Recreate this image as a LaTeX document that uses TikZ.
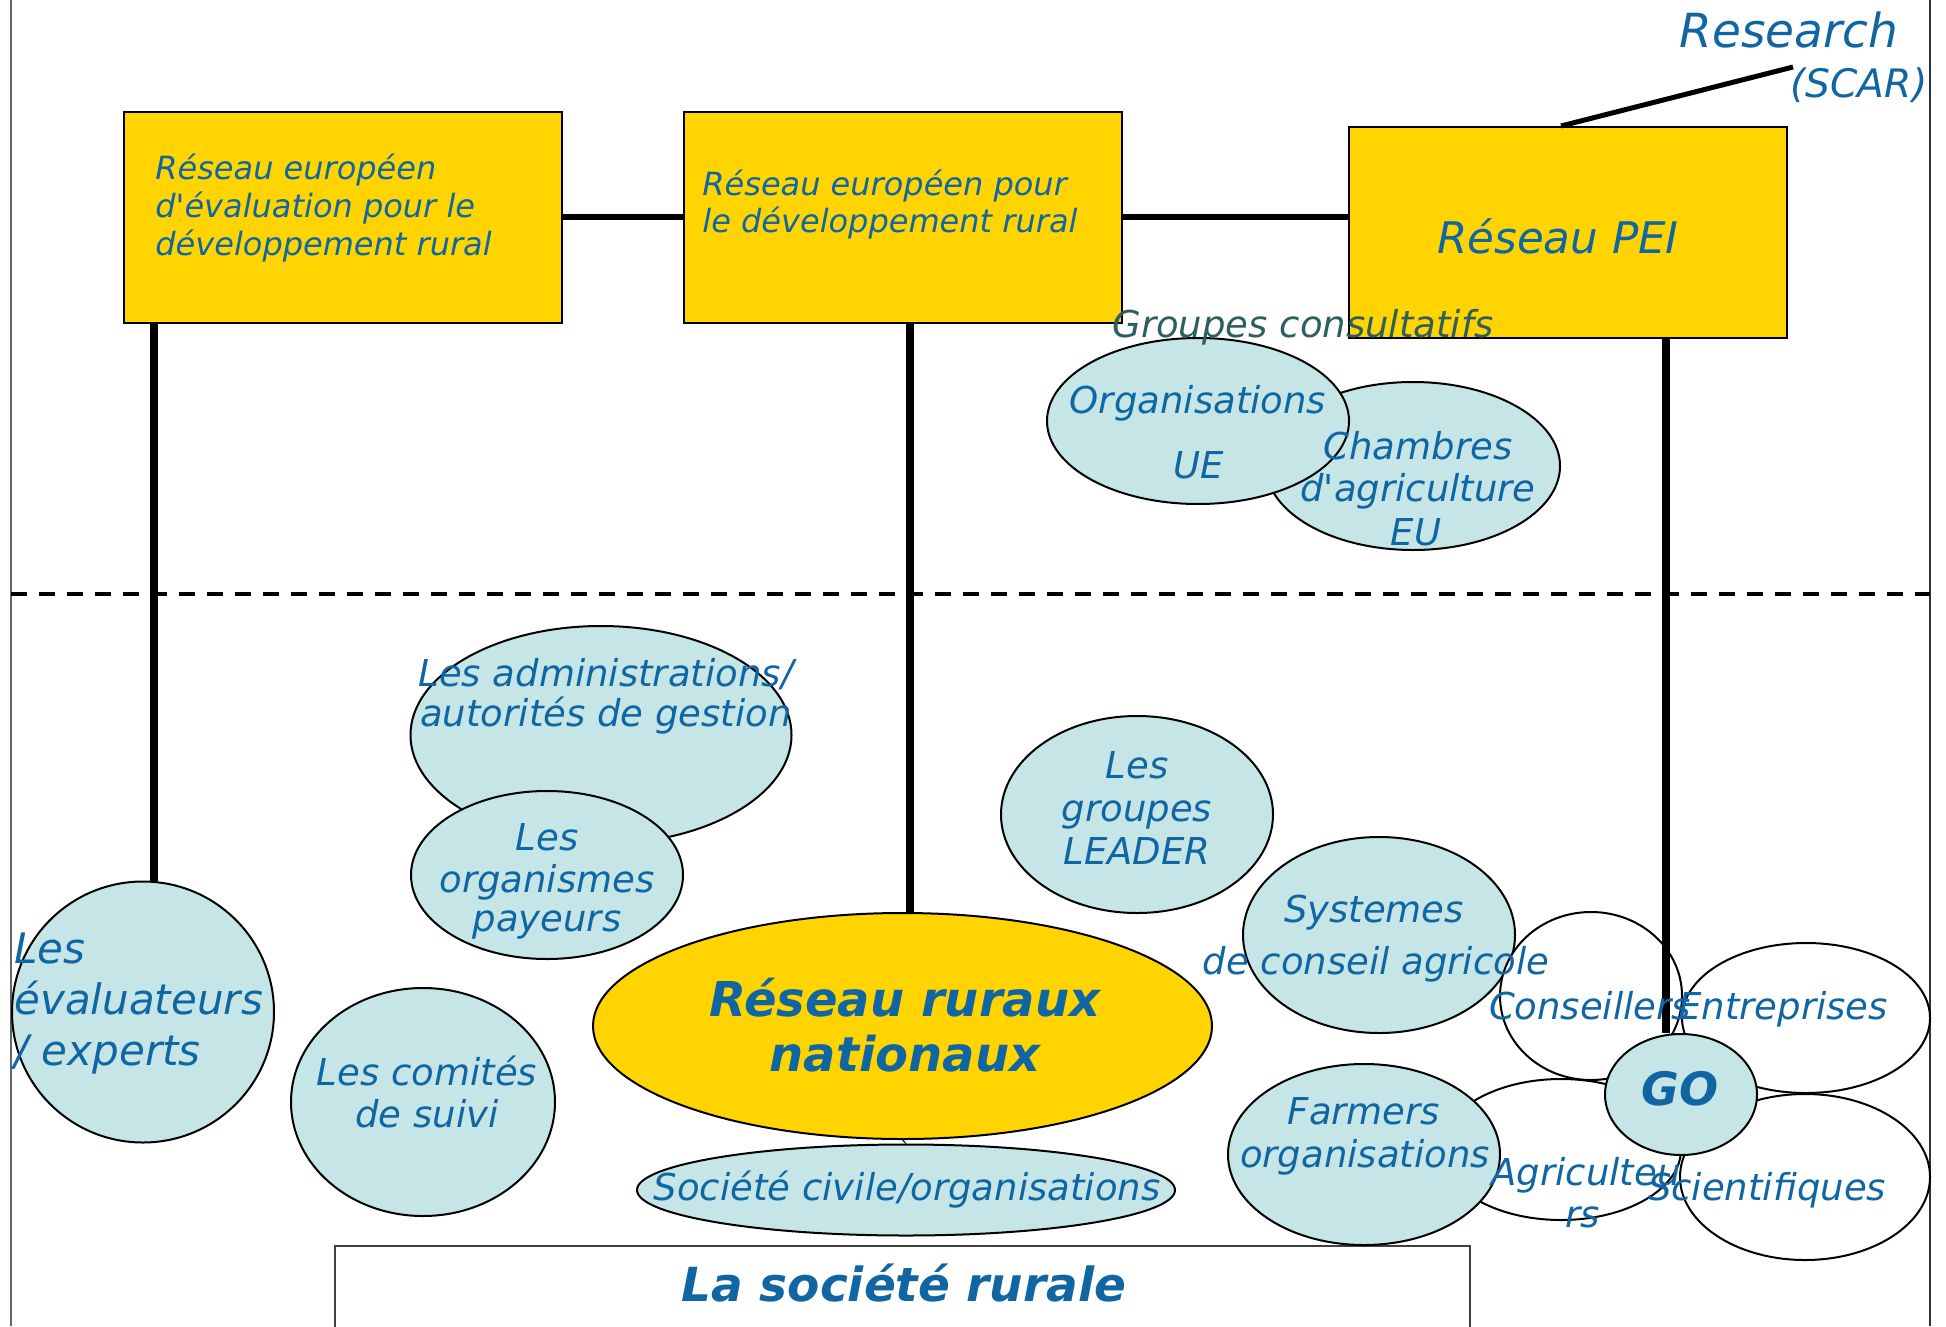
\documentclass[tikz,border=0pt]{standalone}
\usepackage{fontspec}
\setmainfont{DejaVu Sans}
\usetikzlibrary{shapes.geometric}
\definecolor{tblue}{RGB}{16,102,163}
\definecolor{ygold}{RGB}{255,212,0}
\definecolor{lblue}{RGB}{197,229,231}
\definecolor{gteal}{RGB}{46,94,94}
\tikzset{
  ell/.style={ellipse, draw=black, line width=1pt, fill=lblue, inner sep=0pt},
  wcirc/.style={ellipse, draw=black, line width=1pt, fill=white, inner sep=0pt},
  ybox/.style={rectangle, draw=black, line width=1pt, fill=ygold, inner sep=0pt},
  conn/.style={line width=3pt, draw=black},
  vconn/.style={line width=4pt, draw=black},
  tx/.style={text=tblue, inner sep=0pt, anchor=base},
  tl/.style={text=tblue, inner sep=0pt, anchor=base west},
  fbox/.style={font=\fontsize{16}{19}\selectfont\itshape},
  fell/.style={font=\fontsize{18.5}{22}\selectfont\itshape},
  fbig/.style={font=\fontsize{21}{25}\selectfont\itshape},
  fbold/.style={font=\fontsize{24}{28}\selectfont\bfseries\itshape},
}
\begin{document}
\begin{tikzpicture}[x=0.5pt,y=-0.5pt]
\clip (0,0) rectangle (1946,1326);
\fill[white] (0,0) rectangle (1946,1326);
% slide edges
\draw[black!60, line width=0.75pt] (11,0) -- (11,1326);
\draw[black!80, line width=0.75pt] (1930,0) -- (1930,1326);
% dashed separator
\draw[line width=2pt, dash pattern=on 8pt off 6pt] (11,594) -- (1930,594);

% top boxes
\node[ybox, minimum width=219pt, minimum height=105.5pt] (box1) at (343,217.5) {};
\node[ybox, minimum width=219pt, minimum height=105.5pt] (box2) at (903,217.5) {};
\node[ybox, minimum width=219pt, minimum height=105.5pt] (box3) at (1568,232.5) {};

% bottom box
\node[draw=black!75, line width=1pt, fill=white, minimum width=567.5pt, minimum height=55pt, anchor=north, inner sep=0pt] (srbox) at (902.5,1245) {};

% ellipses
\node[ell, minimum width=147pt, minimum height=84pt] (chamb) at (1413,466) {};
\node[ell, minimum width=151pt, minimum height=83pt] (orgue) at (1198,421) {};
\node[ell, minimum width=190.5pt, minimum height=109pt] (admin) at (601,735) {};
\node[ell, minimum width=136pt, minimum height=84pt] (payeur) at (547,875) {};
\node[ell, minimum width=131pt, minimum height=130.5pt] (eval) at (143,1012) {};
\node[ell, minimum width=132pt, minimum height=114pt] (comite) at (423,1102) {};
\node[ellipse, draw=black, line width=1pt, fill=ygold, inner sep=0pt, minimum width=309.5pt, minimum height=113pt] (rrn) at (902.5,1026) {};
\node[ell, minimum width=269pt, minimum height=45.5pt] (soc) at (906,1190) {};
\node[ell, minimum width=136pt, minimum height=98.5pt] (leader) at (1137,814.5) {};
\node[ell, minimum width=136pt, minimum height=98pt] (syst) at (1379,935) {};
\node[wcirc, minimum width=91pt, minimum height=84pt] (cons) at (1591,996) {};
\node[wcirc, minimum width=124pt, minimum height=75pt] (entr) at (1806,1018) {};
\node[wcirc, minimum width=120pt, minimum height=70.5pt] (agri) at (1561,1149.5) {};
\node[wcirc, minimum width=125pt, minimum height=83pt] (scie) at (1805,1177) {};
\node[ell, minimum width=136pt, minimum height=90.5pt] (farm) at (1364,1154.5) {};
\node[ell, minimum width=76pt, minimum height=60.5pt] (go) at (1681,1094.5) {};

% connectors
\coordinate (v1) at (154,0);
\coordinate (v2) at (910,0);
\coordinate (v3) at (1666,0);
\coordinate (rend) at (1793,67);
\draw[conn] (box1.east) -- (box2.west);
\draw[conn] (box2.east) -- (box2.east -| box3.west);
\draw[vconn] (box1.south -| v1) -- (v1 |- eval.north);
\draw[vconn] (box2.south -| v2) -- (v2 |- rrn.north);
\draw[vconn] (box3.south -| v3) -- (v3 |- go.north);
\draw[line width=2.5pt] ([xshift=-3.5pt]box3.north) -- (rend);
\draw[line width=0.5pt] (rrn.south) -- (soc.north);

% texts
\node[tl, fbox] (b1a) at (155,180) {Réseau européen};
\node[tl, fbox] (b1b) at (155,218) {d\textquotesingle évaluation pour le};
\node[tl, fbox] (b1c) at (155,256) {développement rural};
\node[tl, fbox] (b2a) at (702,196) {Réseau européen pour};
\node[tl, fbox] (b2b) at (702,233) {le développement rural};
\node[tx, font=\fontsize{21.8}{26}\selectfont\itshape] (pei) at (1558,254) {Réseau PEI};
\node[tl, font=\fontsize{23.5}{28}\selectfont\itshape] (res) at (1679,48) {Research};
\node[tl, font=\fontsize{19.6}{23}\selectfont\itshape] (scar) at (1790,98) {(SCAR)};
\node[tl, fell, text=gteal] (grc) at (1112,337) {Groupes consultatifs};

\node[tx, fell] (oa) at (1198,413) {Organisations};
\node[tx, fell] (ob) at (1199,478) {UE};
\node[tx, fell] (ca) at (1418,459) {Chambres};
\node[tx, fell] (cb) at (1418,501) {d\textquotesingle agriculture};
\node[tx, fell] (cc) at (1416,545) {EU};

\node[tx, fell] (aa) at (606,686) {Les administrations/};
\node[tx, fell] (ab) at (606,726) {autorités de gestion};
\node[tx, fell] (pa) at (547,850) {Les};
\node[tx, fell] (pb) at (547,892) {organismes};
\node[tx, fell] (pc) at (547,931) {payeurs};
\node[tx, fell] (la) at (1137,778) {Les};
\node[tx, fell] (lb) at (1137,821) {groupes};
\node[tx, fell] (lc) at (1137,864) {LEADER};

\node[tl, fbig] (ea) at (14,963) {Les};
\node[tl, fbig] (eb) at (14,1014) {évaluateurs};
\node[tl, fbig] (ec) at (14,1065) {/ experts};
\node[tx, fell] (ka) at (427,1085) {Les comités};
\node[tx, fell] (kb) at (427,1127) {de suivi};

\node[tx, fbold] (ra) at (905,1016) {Réseau ruraux};
\node[tx, fbold] (rb) at (905,1071) {nationaux};
\node[tx, fell] (sa) at (907,1200) {Société civile/organisations};
\node[tx, font=\fontsize{23.5}{28}\selectfont\bfseries\itshape] (sr) at (904,1301) {La société rurale};

\node[tx, fell] (ya) at (1374,922) {Systemes};
\node[tx, fell] (yb) at (1376,974) {de conseil agricole};
\node[tx, fell] (cn) at (1590,1019) {Conseillers};
\node[tx, fell] (en) at (1783,1019) {Entreprises};
\node[tx, fell] (fa) at (1364,1124) {Farmers};
\node[tx, fell] (fb) at (1365,1167) {organisations};
\node[tx, fell] (ga) at (1586,1185) {Agriculteu};
\node[tx, fell] (gb) at (1583,1227) {rs};
\node[tx, fell] (sc) at (1767,1200) {Scientifiques};
\node[tx, font=\fontsize{23}{27}\selectfont\bfseries\itshape] (gol) at (1680,1105) {GO};
\end{tikzpicture}
\end{document}
